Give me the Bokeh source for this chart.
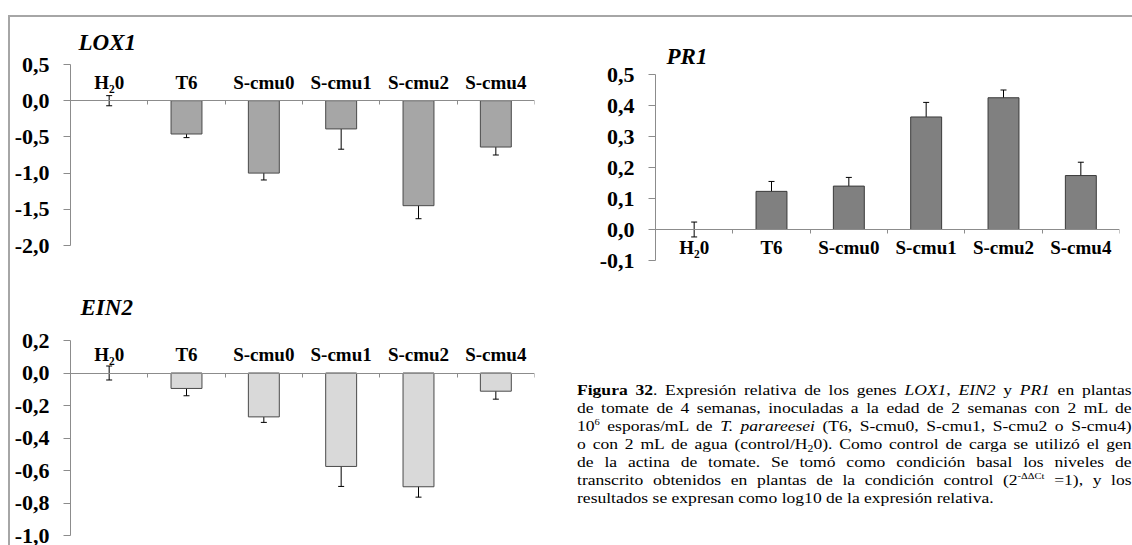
from bokeh.plotting import figure
from bokeh.models import (ColumnDataSource, Range1d, LinearAxis, FixedTicker,
                          CustomJSTickFormatter, Whisker, TeeHead, Div, Spacer)
from bokeh.layouts import row, column
from bokeh.embed import file_html
from bokeh.resources import INLINE

# Treatments (same order in the three panels)
categories = ["H\u20820", "T6", "S-cmu0", "S-cmu1", "S-cmu2", "S-cmu4"]

# log10 of relative expression and its error, per gene
lox1_values = [0.0, -0.46, -1.00, -0.39, -1.45, -0.64]
lox1_errors = [0.07, 0.05, 0.095, 0.28, 0.18, 0.11]

ein2_values = [0.0, -0.095, -0.27, -0.575, -0.70, -0.112]
ein2_errors = [0.043, 0.045, 0.034, 0.123, 0.064, 0.049]

pr1_values = [0.0, 0.123, 0.14, 0.363, 0.425, 0.174]
pr1_errors = [0.024, 0.032, 0.028, 0.047, 0.025, 0.043]

# y tick values of each panel
lox1_yticks = [-2.0, -1.5, -1.0, -0.5, 0.0, 0.5]
ein2_yticks = [-1.0, -0.8, -0.6, -0.4, -0.2, 0.0, 0.2]
pr1_yticks = [-0.1, 0.0, 0.1, 0.2, 0.3, 0.4, 0.5]

SERIF = "Liberation Serif"
AXIS_GREY = "#8c8c8c"


def gene_chart(title, values, errors, yticks, fill, outline, label_side,
               width, height, borders, title_offset, title_standoff):
    n = len(categories)
    centers = [i + 0.5 for i in range(n)]
    src = ColumnDataSource(dict(
        x=centers,
        top=values,
        upper=[v + e for v, e in zip(values, errors)],
        lower=[v - e for v, e in zip(values, errors)],
        edge=[1.0 if v != 0 else 0.0 for v in values],
    ))
    left, right, top, bottom = borders
    p = figure(width=width, height=height, title=title,
               x_range=Range1d(0, n), y_range=Range1d(min(yticks), max(yticks)),
               x_axis_type=None, y_axis_type=None,
               output_backend="svg", toolbar_location=None,
               min_border_left=left, min_border_right=right,
               min_border_top=top, min_border_bottom=bottom)
    p.outline_line_color = None
    p.background_fill_color = "white"
    p.border_fill_color = "white"

    p.title.text_font = SERIF
    p.title.text_font_style = "bold italic"
    p.title.text_font_size = "23px"
    p.title.text_color = "black"
    p.title.align = "left"
    p.title.offset = title_offset
    p.title.standoff = title_standoff

    p.vbar(x="x", top="top", bottom=0, width=0.4, source=src,
           fill_color=fill, line_color=outline, line_alpha="edge", line_width=1)

    whisk = Whisker(source=src, base="x", upper="upper", lower="lower",
                    line_color="black", line_width=1,
                    upper_head=TeeHead(size=6, line_color="black", line_width=1),
                    lower_head=TeeHead(size=6, line_color="black", line_width=1))
    p.add_layout(whisk)

    yaxis = LinearAxis(
        ticker=FixedTicker(ticks=yticks),
        formatter=CustomJSTickFormatter(code="return tick.toFixed(1).replace('.', ',');"),
        axis_line_color=AXIS_GREY, major_tick_line_color=AXIS_GREY,
        major_tick_in=0, major_tick_out=7, minor_tick_line_color=None,
        major_label_standoff=14,
        major_label_text_font=SERIF, major_label_text_font_style="bold",
        major_label_text_font_size="22px", major_label_text_color="black",
    )
    p.add_layout(yaxis, "left")

    # category axis crossing at zero; ticks sit on the category boundaries
    xaxis = LinearAxis(
        ticker=FixedTicker(ticks=centers, minor_ticks=list(range(n + 1))),
        formatter=CustomJSTickFormatter(args=dict(labels=categories),
                                        code="return labels[Math.floor(tick)];"),
        fixed_location=0,
        axis_line_color=AXIS_GREY, major_tick_line_color=None,
        major_tick_in=0, major_tick_out=0,
        minor_tick_line_color=AXIS_GREY,
        minor_tick_in=4 if label_side == "above" else 0,
        minor_tick_out=4 if label_side == "below" else 0,
        major_label_standoff=8 if label_side == "above" else 3,
        major_label_text_font=SERIF, major_label_text_font_style="bold",
        major_label_text_font_size="19px", major_label_text_color="black",
    )
    p.add_layout(xaxis, label_side)
    return p


lox1 = gene_chart("LOX1", lox1_values, lox1_errors, lox1_yticks,
                  "#a6a6a6", "#4a4a4a", "above",
                  width=530, height=242, borders=(60, 6, 47, 14),
                  title_offset=8, title_standoff=19)
ein2 = gene_chart("EIN2", ein2_values, ein2_errors, ein2_yticks,
                  "#d9d9d9", "#4a4a4a", "above",
                  width=530, height=286, borders=(60, 6, 81, 10),
                  title_offset=10, title_standoff=41)
pr1 = gene_chart("PR1", pr1_values, pr1_errors, pr1_yticks,
                 "#808080", "#3a3a3a", "below",
                 width=592, height=273, borders=(115, 13, 57, 30),
                 title_offset=11, title_standoff=12)

caption_lines = [
    "<b>Figura 32</b>. Expresión relativa de los genes <i>LOX1</i>, <i>EIN2</i> y <i>PR1</i> en plantas",
    "de tomate de 4 semanas, inoculadas a la edad de 2 semanas con 2 mL de",
    "10<sup>6</sup> esporas/mL de <i>T. parareesei</i> (T6, S-cmu0, S-cmu1, S-cmu2 o S-cmu4)",
    "o con 2 mL de agua (control/H<sub>2</sub>0). Como control de carga se utilizó el gen",
    "de la actina de tomate. Se tomó como condición basal los niveles de",
    "transcrito obtenidos en plantas de la condición control (2<sup>-ΔΔCt</sup> =1), y los",
    "resultados se expresan como log10 de la expresión relativa.",
]
sup_css = "font-size:9px; line-height:0; vertical-align:6px;"
sub_css = "font-size:10px; line-height:0; vertical-align:-3px;"
rows_html = []
for i, line in enumerate(caption_lines):
    line = line.replace("<sup>", f"<span style='{sup_css}'>").replace("</sup>", "</span>")
    line = line.replace("<sub>", f"<span style='{sub_css}'>").replace("</sub>", "</span>")
    last = "justify" if i < len(caption_lines) - 1 else "left"
    rows_html.append(f"<div style='text-align:justify; text-align-last:{last}; white-space:nowrap;'>{line}</div>")
caption_html = (
    "<div style=\"width:474px; transform:scaleX(1.17); transform-origin:0 0; "
    "font-family:'Liberation Serif'; font-size:15px; line-height:18px; color:#000;\">"
    + "".join(rows_html) + "</div>"
)
caption = Div(text=caption_html, width=555, height=130, margin=0,
              styles={"overflow": "hidden"})

FRAME = "#a6a6a6"
top_line = Div(text="", width=1124, height=2, margin=0,
               styles={"background-color": FRAME})
left_line = Div(text="", width=2, height=528, margin=0,
                styles={"background-color": FRAME})

left_col = column(lox1, ein2)
right_col = column(pr1, Spacer(width=592, height=91),
                   row(Spacer(width=37, height=130), caption))

page = column(
    Spacer(width=1132, height=15),
    row(Spacer(width=8, height=2), top_line),
    row(Spacer(width=8, height=528), left_line, left_col, right_col),
)

open("out.html", "w").write(file_html(page, INLINE))
